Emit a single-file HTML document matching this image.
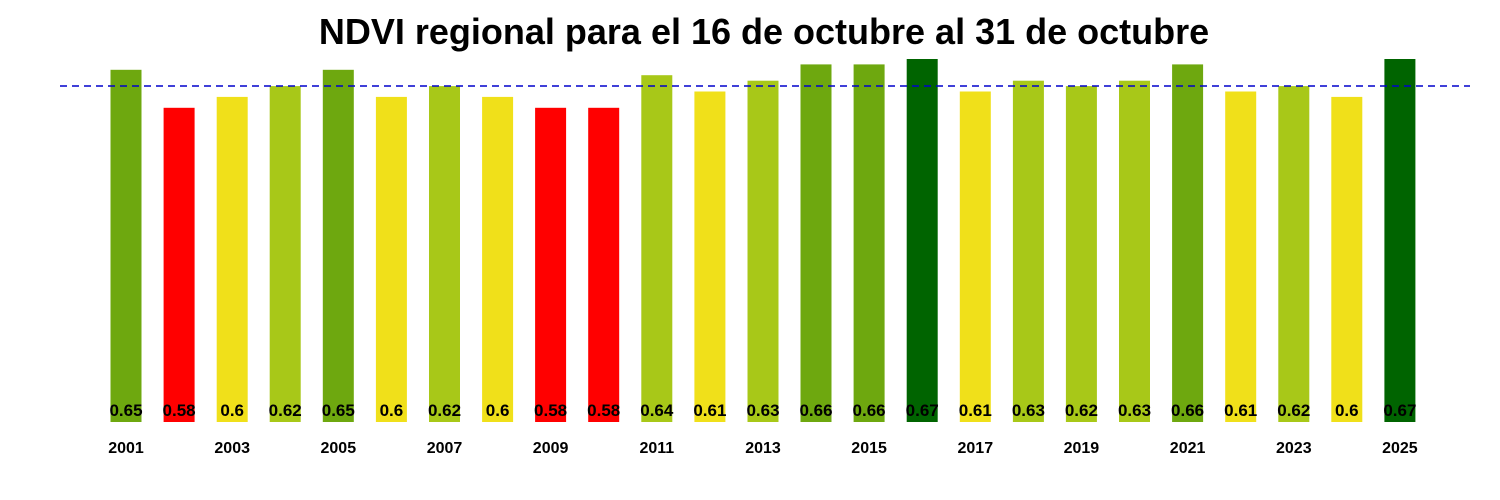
<!DOCTYPE html>
<html><head><style>
html,body{margin:0;padding:0;background:#fff;}
svg{display:block;font-family:"Liberation Sans",Arial,sans-serif;}
</style></head><body>
<svg width="1500" height="500" xmlns="http://www.w3.org/2000/svg">
<rect width="1500" height="500" fill="#fff"/>
<text x="764" y="44" text-anchor="middle" font-size="36" font-weight="bold">NDVI regional para el 16 de octubre al 31 de octubre</text>
<g>
<rect x="110.5" y="69.8" width="31" height="352.2" fill="#6ea80f"/>
<rect x="163.6" y="107.8" width="31" height="314.2" fill="#ff0000"/>
<rect x="216.7" y="96.9" width="31" height="325.1" fill="#f0e01a"/>
<rect x="269.7" y="86.1" width="31" height="335.9" fill="#a8c818"/>
<rect x="322.8" y="69.8" width="31" height="352.2" fill="#6ea80f"/>
<rect x="375.9" y="96.9" width="31" height="325.1" fill="#f0e01a"/>
<rect x="429" y="86.1" width="31" height="335.9" fill="#a8c818"/>
<rect x="482.1" y="96.9" width="31" height="325.1" fill="#f0e01a"/>
<rect x="535.1" y="107.8" width="31" height="314.2" fill="#ff0000"/>
<rect x="588.2" y="107.8" width="31" height="314.2" fill="#ff0000"/>
<rect x="641.3" y="75.2" width="31" height="346.8" fill="#a8c818"/>
<rect x="694.4" y="91.5" width="31" height="330.5" fill="#f0e01a"/>
<rect x="747.5" y="80.7" width="31" height="341.3" fill="#a8c818"/>
<rect x="800.5" y="64.4" width="31" height="357.6" fill="#6ea80f"/>
<rect x="853.6" y="64.4" width="31" height="357.6" fill="#6ea80f"/>
<rect x="906.7" y="59" width="31" height="363" fill="#006400"/>
<rect x="959.8" y="91.5" width="31" height="330.5" fill="#f0e01a"/>
<rect x="1012.9" y="80.7" width="31" height="341.3" fill="#a8c818"/>
<rect x="1065.9" y="86.1" width="31" height="335.9" fill="#a8c818"/>
<rect x="1119" y="80.7" width="31" height="341.3" fill="#a8c818"/>
<rect x="1172.1" y="64.4" width="31" height="357.6" fill="#6ea80f"/>
<rect x="1225.2" y="91.5" width="31" height="330.5" fill="#f0e01a"/>
<rect x="1278.3" y="86.1" width="31" height="335.9" fill="#a8c818"/>
<rect x="1331.3" y="96.9" width="31" height="325.1" fill="#f0e01a"/>
<rect x="1384.4" y="59" width="31" height="363" fill="#006400"/>
</g>
<g font-size="17" font-weight="bold" text-anchor="middle">
<text x="126" y="416">0.65</text>
<text x="179.1" y="416">0.58</text>
<text x="232.2" y="416">0.6</text>
<text x="285.2" y="416">0.62</text>
<text x="338.3" y="416">0.65</text>
<text x="391.4" y="416">0.6</text>
<text x="444.5" y="416">0.62</text>
<text x="497.6" y="416">0.6</text>
<text x="550.6" y="416">0.58</text>
<text x="603.7" y="416">0.58</text>
<text x="656.8" y="416">0.64</text>
<text x="709.9" y="416">0.61</text>
<text x="763" y="416">0.63</text>
<text x="816" y="416">0.66</text>
<text x="869.1" y="416">0.66</text>
<text x="922.2" y="416">0.67</text>
<text x="975.3" y="416">0.61</text>
<text x="1028.4" y="416">0.63</text>
<text x="1081.4" y="416">0.62</text>
<text x="1134.5" y="416">0.63</text>
<text x="1187.6" y="416">0.66</text>
<text x="1240.7" y="416">0.61</text>
<text x="1293.8" y="416">0.62</text>
<text x="1346.8" y="416">0.6</text>
<text x="1399.9" y="416">0.67</text>
</g>
<g font-size="16" font-weight="bold" text-anchor="middle">
<text x="126" y="453">2001</text>
<text x="232.2" y="453">2003</text>
<text x="338.3" y="453">2005</text>
<text x="444.5" y="453">2007</text>
<text x="550.6" y="453">2009</text>
<text x="656.8" y="453">2011</text>
<text x="763" y="453">2013</text>
<text x="869.1" y="453">2015</text>
<text x="975.3" y="453">2017</text>
<text x="1081.4" y="453">2019</text>
<text x="1187.6" y="453">2021</text>
<text x="1293.8" y="453">2023</text>
<text x="1399.9" y="453">2025</text>
</g>
<line x1="60" y1="86" x2="1470" y2="86" stroke="#0000cc" stroke-width="1.5" stroke-dasharray="7,5"/>
</svg>
</body></html>
